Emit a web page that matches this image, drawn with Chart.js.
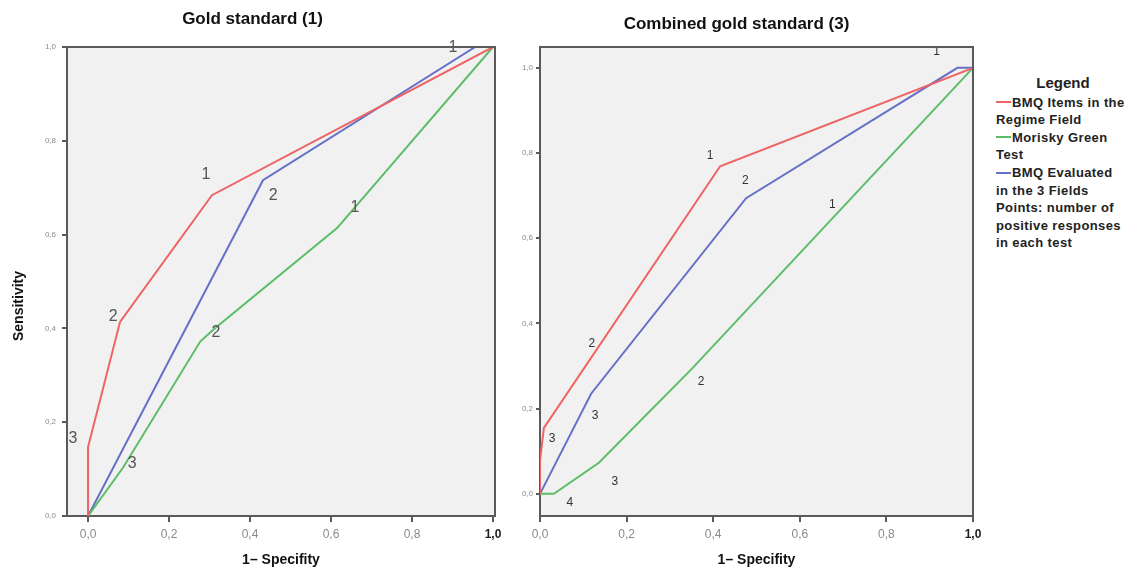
<!DOCTYPE html>
<html>
<head>
<meta charset="utf-8">
<script src="https://cdn.jsdelivr.net/npm/chart.js@4"></script>
<style>
  body { margin: 0; background: #fff; width: 1142px; height: 576px; overflow: hidden; position: relative;
         font-family: "Liberation Sans", Arial, sans-serif; }
  #gold { position: absolute; left: 0; top: 0; }
  #combined { position: absolute; left: 500px; top: 0; }
  #legend { position: absolute; left: 996px; top: 74px; width: 146px; color: #222; font-weight: bold;
            font-size: 13px; letter-spacing: 0.4px; line-height: 17.6px; }
  #legend .head { font-size: 15px; letter-spacing: 0; text-align: center; width: 134px; margin-bottom: 2px; }
  #legend .sw { display: inline-block; width: 15px; height: 2px; vertical-align: middle; margin-right: 1px; margin-top: -2px; }
</style>
</head>
<body>
<canvas id="gold" width="520" height="576"></canvas>
<canvas id="combined" width="490" height="576"></canvas>
<div id="legend">
  <div class="head">Legend</div>
  <div><span class="sw" style="background:#ee6464"></span>BMQ Items in the<br>Regime Field</div>
  <div><span class="sw" style="background:#5cbd68"></span>Morisky Green<br>Test</div>
  <div><span class="sw" style="background:#6670c6"></span>BMQ Evaluated<br>in the 3 Fields</div>
  <div>Points: number of<br>positive responses<br>in each test</div>
</div>
<script>
const xTicks = [0, 0.2, 0.4, 0.6, 0.8, 1.0];
const yTicks = [0, 0.2, 0.4, 0.6, 0.8, 1.0];

// Gold standard (1)
const gsRegimeX = [0, 0, 0.079, 0.306, 1];
const gsRegimeY = [0, 0.147, 0.414, 0.684, 1];
const gsMoriskyX = [0, 0.087, 0.277, 0.309, 0.615, 1];
const gsMoriskyY = [0, 0.104, 0.372, 0.397, 0.614, 1];
const gsFieldsX = [0, 0.432, 0.956, 1];
const gsFieldsY = [0, 0.716, 1, 1];
const gsLabelText = ['3', '2', '1', '2', '1', '2', '3', '1'];
const gsLabelX = [-0.037, 0.062, 0.291, 0.457, 0.659, 0.316, 0.109, 0.901];
const gsLabelY = [0.166, 0.426, 0.727, 0.684, 0.657, 0.390, 0.111, 0.998];

// Combined gold standard (3)
const cgRegimeX = [0, 0, 0.009, 0.416, 1];
const cgRegimeY = [0, 0.078, 0.155, 0.769, 1];
const cgMoriskyX = [0, 0.032, 0.136, 0.351, 1];
const cgMoriskyY = [0, 0, 0.073, 0.294, 1];
const cgFieldsX = [0, 0.118, 0.476, 0.964, 1];
const cgFieldsY = [0, 0.235, 0.694, 1, 1];
const cgLabelText = ['1', '2', '1', '2', '3', '3', '2', '3', '4', '1'];
const cgLabelX = [0.393, 0.474, 0.675, 0.120, 0.028, 0.127, 0.372, 0.173, 0.069, 0.916];
const cgLabelY = [0.795, 0.736, 0.678, 0.353, 0.129, 0.184, 0.264, 0.028, -0.021, 1.038];

const red = '#ee6464', green = '#5cbd68', blue = '#6670c6';

function pts(xs, ys) {
  return xs.map((x, i) => ({ x: x, y: ys[i] }));
}

function comma(v) {
  return v.toFixed(1).replace('.', ',');
}

// grey plot area and a closed frame
const frame = {
  id: 'frame',
  beforeDraw(chart) {
    const a = chart.chartArea, ctx = chart.ctx;
    ctx.save();
    ctx.fillStyle = '#f1f1f1';
    ctx.fillRect(a.left, a.top, a.right - a.left, a.bottom - a.top);
    ctx.restore();
  },
  afterDraw(chart) {
    const a = chart.chartArea, ctx = chart.ctx;
    ctx.save();
    ctx.strokeStyle = '#5a5a5a';
    ctx.lineWidth = 2;
    ctx.beginPath();
    ctx.moveTo(a.left, a.top);
    ctx.lineTo(a.right, a.top);
    ctx.lineTo(a.right, a.bottom);
    ctx.stroke();
    ctx.restore();
  }
};

// numbers written next to the cut points
function pointLabels(texts, xs, ys, font, color) {
  return {
    id: 'pointLabels',
    afterDatasetsDraw(chart) {
      const ctx = chart.ctx, x = chart.scales.x, y = chart.scales.y;
      ctx.save();
      ctx.font = font;
      ctx.fillStyle = color;
      ctx.textAlign = 'center';
      ctx.textBaseline = 'middle';
      texts.forEach((t, i) => ctx.fillText(t, x.getPixelForValue(xs[i]), y.getPixelForValue(ys[i])));
      ctx.restore();
    }
  };
}

const sideTitle = {
  id: 'sideTitle',
  afterDraw(chart) {
    const ctx = chart.ctx;
    ctx.save();
    ctx.translate(19, 306);
    ctx.rotate(-Math.PI / 2);
    ctx.font = 'bold 14px "Liberation Sans", Arial, sans-serif';
    ctx.fillStyle = '#111';
    ctx.textAlign = 'center';
    ctx.textBaseline = 'middle';
    ctx.fillText('Sensitivity', 0, 0);
    ctx.restore();
  }
};

function rocChart(id, o) {
  return new Chart(document.getElementById(id), {
    type: 'line',
    data: {
      datasets: [
        { label: 'BMQ Items in the Regime Field', data: pts(o.regimeX, o.regimeY), borderColor: red },
        { label: 'Morisky Green Test', data: pts(o.moriskyX, o.moriskyY), borderColor: green },
        { label: 'BMQ Evaluated in the 3 Fields', data: pts(o.fieldsX, o.fieldsY), borderColor: blue }
      ]
    },
    options: {
      responsive: false,
      animation: false,
      devicePixelRatio: 1,
      elements: { line: { borderWidth: 2, tension: 0 }, point: { radius: 0 } },
      layout: { padding: o.padding },
      plugins: {
        legend: { display: false },
        tooltip: { enabled: false },
        title: {
          display: true, text: o.title, color: '#111',
          font: { size: 17, weight: 'bold', family: '"Liberation Sans", Arial, sans-serif' },
          padding: o.titlePad
        }
      },
      scales: {
        x: {
          type: 'linear', min: o.xMin, max: o.xMax,
          afterBuildTicks: s => { s.ticks = xTicks.map(v => ({ value: v })); },
          afterFit: s => { s.height = 60; },
          ticks: {
            callback: v => comma(v), padding: 5,
            color: c => c.index === xTicks.length - 1 ? '#222' : '#8a8a8a',
            font: c => ({ size: 12, weight: c.index === xTicks.length - 1 ? 'bold' : 'normal', family: '"Liberation Sans", Arial, sans-serif' })
          },
          grid: { drawOnChartArea: false, tickLength: 6, color: '#5a5a5a', lineWidth: 2 },
          border: { color: '#5a5a5a', width: 2 },
          title: {
            display: true, text: '1– Specifity', color: '#111',
            font: { size: 14, weight: 'bold', family: '"Liberation Sans", Arial, sans-serif' },
            padding: { top: 7, bottom: 7 }
          }
        },
        y: {
          type: 'linear', min: o.yMin, max: o.yMax,
          afterBuildTicks: s => { s.ticks = yTicks.map(v => ({ value: v })); },
          afterFit: s => { s.width = o.yWidth; },
          ticks: {
            callback: v => comma(v), padding: o.yPad, color: '#8a8a8a',
            font: { size: 8, family: '"Liberation Sans", Arial, sans-serif' }
          },
          grid: { drawOnChartArea: false, tickLength: o.yTick, color: '#5a5a5a', lineWidth: 2 },
          border: { color: '#5a5a5a', width: 2 }
        }
      }
    },
    plugins: o.plugins
  });
}

rocChart('gold', {
  title: 'Gold standard (1)',
  regimeX: gsRegimeX, regimeY: gsRegimeY,
  moriskyX: gsMoriskyX, moriskyY: gsMoriskyY,
  fieldsX: gsFieldsX, fieldsY: gsFieldsY,
  xMin: -0.052, xMax: 1.005, yMin: 0, yMax: 1,
  padding: { left: 10, right: 25, top: 0, bottom: 0 },
  titlePad: { top: 9, bottom: 17.6 },
  yWidth: 57, yPad: 6, yTick: 5,
  plugins: [frame, sideTitle,
    pointLabels(gsLabelText, gsLabelX, gsLabelY, '16px "Liberation Sans", Arial, sans-serif', '#555')]
});

rocChart('combined', {
  title: 'Combined gold standard (3)',
  regimeX: cgRegimeX, regimeY: cgRegimeY,
  moriskyX: cgMoriskyX, moriskyY: cgMoriskyY,
  fieldsX: cgFieldsX, fieldsY: cgFieldsY,
  xMin: 0, xMax: 1, yMin: -0.052, yMax: 1.049,
  padding: { left: 0, right: 17, top: 0, bottom: 0 },
  titlePad: { top: 14, bottom: 12.6 },
  yWidth: 40, yPad: 3, yTick: 4,
  plugins: [frame,
    pointLabels(cgLabelText, cgLabelX, cgLabelY, '12px "Liberation Sans", Arial, sans-serif', '#333')]
});
</script>
</body>
</html>
